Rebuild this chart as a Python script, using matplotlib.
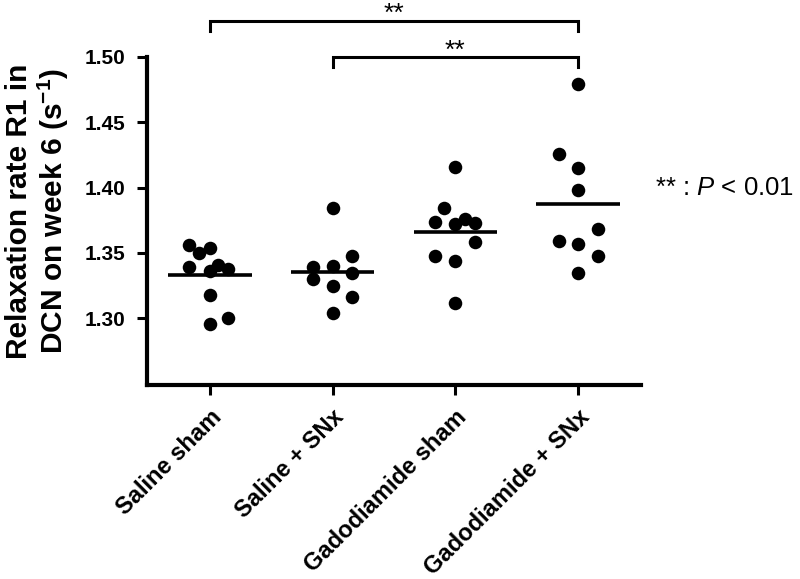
#!/usr/bin/env python3

import matplotlib
matplotlib.use("Agg")
import matplotlib.pyplot as plt
import numpy as np

# group names on the x axis
groups = ["Saline sham", "Saline + SNx", "Gadodiamide sham", "Gadodiamide + SNx"]

# R1 values (s^-1), one list per group
saline_sham = [1.356, 1.354, 1.350, 1.339, 1.341, 1.338, 1.336, 1.318, 1.300, 1.296]
saline_snx = [1.384, 1.348, 1.339, 1.340, 1.330, 1.335, 1.325, 1.316, 1.304]
gado_sham = [1.416, 1.384, 1.374, 1.372, 1.376, 1.373, 1.358, 1.348, 1.344, 1.312]
gado_snx = [1.479, 1.426, 1.415, 1.398, 1.368, 1.359, 1.357, 1.348, 1.335]

# horizontal scatter of the dots (in category units), as drawn in the figure
spread_saline_sham = [-0.17, 0.0, -0.09, -0.17, 0.07, 0.15, 0.0, 0.0, 0.15, 0.0]
spread_saline_snx = [0.0, 0.16, -0.16, 0.0, -0.16, 0.16, 0.0, 0.16, 0.0]
spread_gado_sham = [0.0, -0.09, -0.17, 0.0, 0.08, 0.16, 0.16, -0.17, 0.0, 0.0]
spread_gado_snx = [0.0, -0.16, 0.0, 0.0, 0.16, -0.16, 0.0, 0.16, 0.0]

# significance brackets: (from group, to group, label)
brackets = [(0, 3, "**"), (1, 3, "**")]

y_ticks = [1.30, 1.35, 1.40, 1.45, 1.50]

FONT = "Liberation Sans"
plt.rcParams["mathtext.fontset"] = "custom"
plt.rcParams["mathtext.rm"] = FONT
plt.rcParams["mathtext.it"] = FONT + ":italic"
plt.rcParams["mathtext.bf"] = FONT + ":bold"


def draw_groups(ax):
    values = [saline_sham, saline_snx, gado_sham, gado_snx]
    spreads = [spread_saline_sham, spread_saline_snx, spread_gado_sham, spread_gado_snx]
    for i, (vals, sp) in enumerate(zip(values, spreads)):
        xs = i + np.array(sp)
        ax.scatter(xs, vals, s=95, color="black", zorder=3, linewidths=0)
        media = np.mean(vals)
        ax.plot([i - 0.34, i + 0.34], [media, media], color="black", lw=2.6,
                solid_capstyle="butt", zorder=2)


def draw_brackets(ax):
    # top bracket first, lower one under it
    levels = [(1.5276, 1.5199), (1.5000, 1.4923)]
    for (x0, x1, label), (top, leg) in zip(brackets, levels):
        ax.plot([x0, x0, x1, x1], [leg, top, top, leg], color="black", lw=2.2,
                clip_on=False, solid_joinstyle="miter")
        # the asterisks sit high in the glyph box, so the baseline goes just under the bar
        ax.text((x0 + x1) / 2, top - 0.0005, label, ha="center", va="baseline",
                fontsize=19, family=FONT)


def main():
    fig = plt.figure(figsize=(8.0, 5.79), dpi=100)
    ax = fig.add_axes([0.184, 0.335, 0.617, 0.567])

    draw_groups(ax)
    draw_brackets(ax)

    ax.set_xlim(-0.51, 3.51)
    ax.set_ylim(1.249, 1.50)
    ax.set_yticks(y_ticks)
    ax.set_yticklabels([f"{t:.2f}" for t in y_ticks], fontsize=15,
                       fontweight="bold", family=FONT)
    ax.set_xticks(range(len(groups)))
    ax.set_xticklabels(groups, rotation=45, ha="right", rotation_mode="anchor",
                       fontsize=17, fontweight="bold", family=FONT)

    for side in ["top", "right"]:
        ax.spines[side].set_visible(False)
    for side in ["left", "bottom"]:
        ax.spines[side].set_linewidth(3)
    ax.tick_params(axis="both", direction="out", length=7, width=2.2)
    ax.tick_params(axis="y", pad=9)
    ax.tick_params(axis="x", pad=8)

    ax.set_ylabel("Relaxation rate R1 in\nDCN on week 6 (s$^{\\mathbf{-1}}$)",
                  fontsize=21.5, fontweight="bold", family=FONT,
                  linespacing=1.1)
    ax.yaxis.set_label_coords(-0.154, 0.53)

    fig.text(0.819, 0.675, "** : $\\mathit{P}$ < 0.01", fontsize=18.5, family=FONT,
             va="center", ha="left")

    fig.savefig("out.png", dpi=100)
    plt.close(fig)


if __name__ == "__main__":
    main()
